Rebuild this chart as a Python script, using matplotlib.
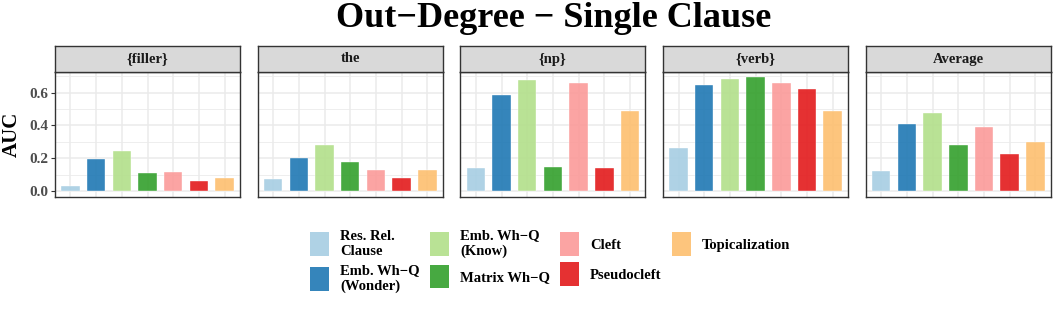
import matplotlib.pyplot as plt
from matplotlib.patches import Patch
import numpy as np

panels = ["{filler}", "the", "{np}", "{verb}", "Average"]
constructions = ["Res. Rel.\nClause", "Emb. Wh\u2212Q\n(Wonder)", "Emb. Wh\u2212Q\n(Know)",
                 "Matrix Wh\u2212Q", "Cleft", "Pseudocleft", "Topicalization"]
colors = ["#a6cee3", "#1f78b4", "#b2df8a", "#33a02c", "#fb9a99", "#e31a1c", "#fdbf6f"]

auc_filler = [0.035, 0.195, 0.245, 0.110, 0.120, 0.062, 0.078]
auc_the = [0.073, 0.205, 0.280, 0.175, 0.128, 0.083, 0.130]
auc_np = [0.139, 0.586, 0.677, 0.150, 0.655, 0.139, 0.490]
auc_verb = [0.260, 0.647, 0.685, 0.693, 0.657, 0.620, 0.485]
auc_avg = [0.125, 0.410, 0.473, 0.280, 0.390, 0.225, 0.298]
values = [auc_filler, auc_the, auc_np, auc_verb, auc_avg]

plt.rcParams['font.family'] = ['Liberation Serif', 'DejaVu Serif']
plt.rcParams['font.weight'] = 'bold'

fig = plt.figure(figsize=(10.58, 3.09), dpi=100)
W, H = 1058, 309

x = np.arange(len(constructions))
for i, (name, vals) in enumerate(zip(panels, values)):
    left = 55 + i * 202.7
    ax = fig.add_axes([left / W, 1 - 197 / H, 185 / W, 125 / H])
    ax.bar(x, vals, width=0.72, color=colors, alpha=0.9, edgecolor="white", linewidth=0.3, zorder=3)
    ax.set_xlim(-0.6, 6.6)
    ax.set_ylim(-0.0345, 0.7245)
    ax.set_yticks([0.0, 0.2, 0.4, 0.6])
    ax.set_yticks([0.1, 0.3, 0.5, 0.7], minor=True)
    ax.set_xticks(x)
    ax.grid(True, which="major", color="#ebebeb", linewidth=1.1, zorder=0)
    ax.grid(True, which="minor", axis="y", color="#ebebeb", linewidth=0.6, zorder=0)
    ax.tick_params(axis="x", which="both", length=0, labelbottom=False)
    ax.tick_params(axis="y", which="minor", length=0)
    ax.tick_params(axis="y", which="major", length=3, color="#333333", labelsize=11,
                   labelcolor="#4d4d4d", pad=2)
    if i > 0:
        ax.tick_params(axis="y", which="major", labelleft=False, length=0)
    else:
        ax.set_yticklabels(["0.0", "0.2", "0.4", "0.6"])
        ax.set_ylabel("AUC", fontsize=15, fontweight="bold", labelpad=5)
    for s in ax.spines.values():
        s.set_color("#333333")
        s.set_linewidth(1.0)

    strip = fig.add_axes([left / W, 1 - 72 / H, 185 / W, 26 / H])
    strip.set_facecolor("#d9d9d9")
    strip.set_xticks([])
    strip.set_yticks([])
    for s in strip.spines.values():
        s.set_color("#333333")
        s.set_linewidth(1.0)
    strip.text(0.5, 0.5, name, ha="center", va="center", fontsize=10.5,
               color="#1a1a1a", transform=strip.transAxes)

fig.suptitle("Out\u2212Degree \u2212 Single Clause", x=0.523, y=0.995, fontsize=26, fontweight="bold")

handles = [Patch(facecolor=c, alpha=0.9, edgecolor="none") for c in colors]
fig.legend(handles, constructions, loc="upper center", bbox_to_anchor=(0.52, 0.3), ncol=4,
           frameon=False, fontsize=10.5, handlelength=1.3, handleheight=2.1,
           columnspacing=0.7, labelspacing=0.45, handletextpad=0.75)

fig.savefig("out.png", dpi=100)
